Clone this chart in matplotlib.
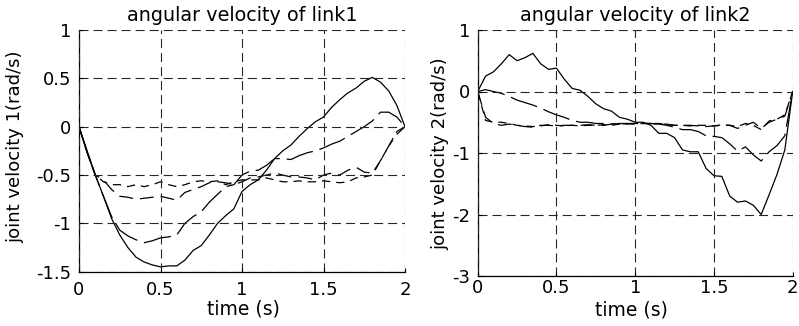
import numpy as np
import matplotlib
matplotlib.use("Agg")
import matplotlib.pyplot as plt

plt.rcParams['font.family'] = ['DejaVu Sans']
plt.rcParams['lines.scale_dashes'] = False

t = np.linspace(0, 2, 41)

link1_solid = [0.0, -0.25, -0.5, -0.72, -0.95, -1.12, -1.25, -1.35, -1.40, -1.43,
               -1.45, -1.44, -1.44, -1.38, -1.28, -1.23, -1.12, -1.0, -0.92, -0.85,
               -0.67, -0.6, -0.55, -0.45, -0.33, -0.25, -0.19, -0.1, -0.02, 0.05,
               0.1, 0.2, 0.28, 0.35, 0.4, 0.47, 0.51, 0.46, 0.37, 0.22, 0.0]
link1_dash_long = [0.0, -0.27, -0.5, -0.72, -0.93, -1.07, -1.13, -1.17, -1.2, -1.18,
                   -1.15, -1.14, -1.12, -1.0, -0.93, -0.88, -0.78, -0.7, -0.62, -0.6,
                   -0.5, -0.46, -0.45, -0.4, -0.33, -0.33, -0.34, -0.3, -0.27, -0.25,
                   -0.22, -0.18, -0.15, -0.1, -0.05, 0.0, 0.06, 0.15, 0.15, 0.1, 0.0]
link1_dash_mid = [0.0, -0.27, -0.5, -0.55, -0.65, -0.72, -0.73, -0.75, -0.74, -0.73,
                  -0.72, -0.74, -0.76, -0.68, -0.65, -0.62, -0.58, -0.57, -0.58, -0.6,
                  -0.57, -0.53, -0.52, -0.5, -0.48, -0.5, -0.52, -0.52, -0.53, -0.55,
                  -0.5, -0.48, -0.5, -0.45, -0.42, -0.47, -0.48, -0.35, -0.2, -0.08, 0.0]
link1_dash_short = [0.0, -0.27, -0.5, -0.57, -0.6, -0.6, -0.62, -0.6, -0.62, -0.6,
                    -0.57, -0.6, -0.62, -0.6, -0.57, -0.56, -0.57, -0.56, -0.6, -0.57,
                    -0.55, -0.55, -0.55, -0.53, -0.55, -0.57, -0.57, -0.56, -0.57, -0.57,
                    -0.56, -0.57, -0.58, -0.57, -0.53, -0.52, -0.5, -0.35, -0.2, -0.05, 0.0]

link2_solid = [0.0, 0.25, 0.32, 0.45, 0.6, 0.5, 0.55, 0.62, 0.45, 0.36,
               0.38, 0.2, 0.05, 0.02, -0.08, -0.2, -0.28, -0.32, -0.42, -0.45,
               -0.5, -0.5, -0.55, -0.68, -0.68, -0.75, -0.95, -0.98, -0.98, -1.25,
               -1.37, -1.38, -1.7, -1.8, -1.78, -1.85, -2.0, -1.68, -1.35, -0.95, 0.0]
link2_dash_long = [0.0, 0.03, 0.0, -0.03, -0.08, -0.14, -0.18, -0.22, -0.27, -0.33,
                   -0.38, -0.42, -0.47, -0.5, -0.5, -0.52, -0.52, -0.53, -0.52, -0.52,
                   -0.52, -0.52, -0.52, -0.53, -0.55, -0.58, -0.62, -0.62, -0.65, -0.72,
                   -0.73, -0.75, -0.85, -0.97, -0.9, -1.03, -1.13, -0.98, -0.88, -0.72, 0.0]
link2_dash_mid = [0.0, -0.42, -0.52, -0.55, -0.53, -0.55, -0.57, -0.58, -0.55, -0.55,
                  -0.56, -0.55, -0.55, -0.55, -0.54, -0.55, -0.55, -0.53, -0.52, -0.53,
                  -0.52, -0.52, -0.52, -0.53, -0.53, -0.55, -0.55, -0.55, -0.56, -0.57,
                  -0.56, -0.55, -0.55, -0.6, -0.55, -0.5, -0.6, -0.5, -0.45, -0.4, 0.0]
link2_dash_short = [0.0, -0.47, -0.5, -0.5, -0.52, -0.55, -0.56, -0.57, -0.56, -0.54,
                    -0.55, -0.56, -0.55, -0.56, -0.55, -0.55, -0.54, -0.55, -0.53, -0.52,
                    -0.53, -0.52, -0.52, -0.52, -0.54, -0.55, -0.55, -0.56, -0.55, -0.55,
                    -0.56, -0.54, -0.55, -0.57, -0.52, -0.55, -0.62, -0.48, -0.45, -0.38, 0.0]

xticks = [0, 0.5, 1, 1.5, 2]
xticklabels = ['0', '0.5', '1', '1.5', '2']
yticks1 = [-1.5, -1, -0.5, 0, 0.5, 1]
yticklabels1 = ['-1.5', '-1', '-0.5', '0', '0.5', '1']
yticks2 = [-3, -2, -1, 0, 1]
yticklabels2 = ['-3', '-2', '-1', '0', '1']

titles = ['angular velocity of link1', 'angular velocity of link2']
ylabels = ['joint velocity 1(rad/s)', 'joint velocity 2(rad/s)']
xlabel = 'time (s)'

W, H = 799, 326
fig = plt.figure(figsize=(W / 100, H / 100), dpi=100)

ax1 = fig.add_axes([79 / W, 1 - 271.7 / H, 326 / W, 241.7 / H])
ax2 = fig.add_axes([477.7 / W, 1 - 276 / H, 315 / W, 246 / H])

styles = [
    dict(linestyle='-'),
    dict(linestyle=(0, (20, 5))),
    dict(linestyle=(0, (10, 5))),
    dict(linestyle=(0, (6, 4.3))),
]

fs = 13

def setup(ax, yticks, ylabels_, ylim, title, ylabel, xpad, xl_coords, yl_coords):
    ax.set_xlim(0, 2)
    ax.set_ylim(*ylim)
    ax.set_xticks(xticks)
    ax.set_xticklabels(xticklabels)
    ax.set_yticks(yticks)
    ax.set_yticklabels(ylabels_)
    ax.grid(True, color='0.15', linewidth=0.8, linestyle=(0, (6.5, 3.6)))
    ax.set_axisbelow(False)
    for s in ['top', 'right']:
        ax.spines[s].set_visible(False)
    for s in ['left', 'bottom']:
        ax.spines[s].set_linewidth(0.9)
        ax.spines[s].set_color('black')
    ax.tick_params(axis='x', direction='in', length=3, labelsize=fs, pad=xpad)
    ax.tick_params(axis='y', direction='in', length=3, labelsize=fs, pad=5.5)
    ax.set_title(title, fontsize=13.8, pad=6.5)
    ax.set_xlabel(xlabel, fontsize=13.5, va='center')
    ax.xaxis.set_label_coords(*xl_coords)
    ax.set_ylabel(ylabel, fontsize=13, va='center')
    ax.yaxis.set_label_coords(*yl_coords)

series1 = [link1_solid, link1_dash_long, link1_dash_mid, link1_dash_short]
series2 = [link2_solid, link2_dash_long, link2_dash_mid, link2_dash_short]

for ys, st in zip(series1, styles):
    ax1.plot(t, ys, color='black', linewidth=0.9, **st)
for ys, st in zip(series2, styles):
    ax2.plot(t, ys, color='black', linewidth=0.9, **st)

setup(ax1, yticks1, yticklabels1, (-1.5, 1), titles[0], ylabels[0], 6.5,
      (0.503, -0.155), (-0.196, 0.517))
setup(ax2, yticks2, yticklabels2, (-3, 1), titles[1], ylabels[1], 2.5,
      (0.489, -0.138), (-0.12, 0.498))

fig.savefig('out.png', dpi=100)
